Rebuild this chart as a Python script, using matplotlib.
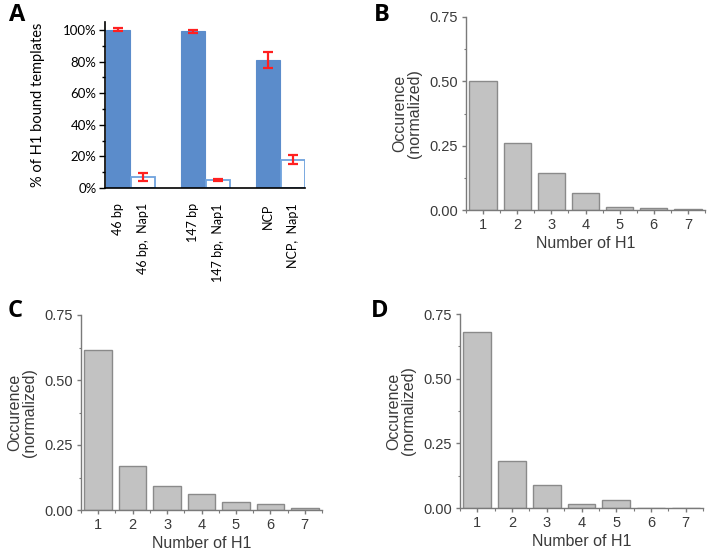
import matplotlib
matplotlib.use("Agg")
import matplotlib.pyplot as plt
from matplotlib.ticker import MultipleLocator, PercentFormatter
import numpy as np

# ---------------- Data ----------------
# Panel A
a_categories = ["46 bp", "46 bp,  Nap1", "147 bp", "147 bp,  Nap1", "NCP", "NCP,  Nap1"]
a_values = [100, 7, 99, 5, 81, 18]
a_errors = [1.0, 2.5, 1.0, 0.5, 5.0, 3.0]
a_filled = [True, False, True, False, True, False]

# Panels B, C, D
n_h1 = [1, 2, 3, 4, 5, 6, 7]
b_values = [0.50, 0.26, 0.145, 0.066, 0.013, 0.008, 0.003]
c_values = [0.615, 0.17, 0.092, 0.06, 0.032, 0.023, 0.008]
d_values = [0.68, 0.18, 0.089, 0.014, 0.030, 0.0, 0.0]
occ_ticks = [0.00, 0.25, 0.50, 0.75]

# ---------------- Figure ----------------
W, H = 708, 552
fig = plt.figure(figsize=(W / 100, H / 100), dpi=100)

def px_axes(left, top, right, bottom):
    return fig.add_axes([left / W, 1 - bottom / H, (right - left) / W, (bottom - top) / H])

# ---- Panel A ----
blue = "#5B8CCB"
edge_blue = "#6FA3DD"
axA = px_axes(105, 22, 305, 188)
xpos = []
for g in range(3):
    xpos += [g - 0.167, g + 0.167]
xpos = np.array(xpos)
for x, v, e, f in zip(xpos, a_values, a_errors, a_filled):
    if f:
        axA.bar(x, v, width=0.31, color=blue, edgecolor=blue, linewidth=0.8, zorder=2)
    else:
        axA.bar(x, v, width=0.32, color="white", edgecolor=edge_blue, linewidth=1.3, zorder=2)
    axA.errorbar(x, v, yerr=e, fmt="none", ecolor="#FF2020", elinewidth=1.6,
                 capsize=3.5, capthick=1.6, zorder=3)
axA.set_xlim(-0.34, 2.327)
axA.set_ylim(0, 105)
axA.yaxis.set_major_locator(MultipleLocator(20))
axA.yaxis.set_minor_locator(MultipleLocator(10))
axA.yaxis.set_major_formatter(PercentFormatter(decimals=0))
axA.set_xticks(xpos)
axA.set_xticklabels(a_categories, rotation=90, va="top", ha="center",
                    fontsize=9, family=["Liberation Sans Narrow", "Lato", "DejaVu Sans"])
axA.tick_params(axis="x", length=0, pad=11)
axA.tick_params(axis="y", which="major", length=4, width=1, labelsize=9.5, pad=2)
axA.tick_params(axis="y", which="minor", length=2.5, width=1)
for lab in axA.get_yticklabels():
    lab.set_family(["Lato", "DejaVu Sans"])
axA.spines["top"].set_visible(False)
axA.spines["right"].set_visible(False)
axA.spines["left"].set_linewidth(1.2)
axA.spines["bottom"].set_linewidth(1.2)
axA.set_ylabel("% of H1 bound templates", fontsize=10.5, family=["Lato", "DejaVu Sans"], labelpad=13)

# ---- Panels B, C, D ----
gray_face = "#C2C2C2"
gray_edge = "#8A8A8A"
spine_col = "#7A7A7A"
text_col = "#3A3A3A"

def occ_panel(ax, values):
    ax.bar(n_h1, values, width=0.8, color=gray_face, edgecolor=gray_edge, linewidth=1.0, zorder=2)
    ax.set_xlim(0.5, 7.5)
    ax.set_ylim(0, 0.75)
    ax.set_yticks(occ_ticks)
    ax.set_yticklabels([f"{t:.2f}" for t in occ_ticks])
    ax.yaxis.set_minor_locator(MultipleLocator(0.125))
    ax.set_xticks(n_h1)
    ax.xaxis.set_minor_locator(MultipleLocator(0.5))
    for s in ["top", "right"]:
        ax.spines[s].set_visible(False)
    for s in ["left", "bottom"]:
        ax.spines[s].set_color(spine_col)
        ax.spines[s].set_linewidth(1.0)
    ax.tick_params(which="major", length=3, width=1, color=spine_col,
                   labelsize=10.5, labelcolor=text_col, pad=3)
    ax.tick_params(which="minor", length=1.8, width=0.8, color=spine_col)
    for lab in ax.get_xticklabels() + ax.get_yticklabels():
        lab.set_family(["Liberation Sans", "DejaVu Sans"])
    ax.set_ylabel("Occurence\n(normalized)", fontsize=11.5, color=text_col,
                  family=["Liberation Sans", "DejaVu Sans"], labelpad=5, linespacing=1.0)
    ax.set_xlabel("Number of H1", fontsize=11.5, color=text_col,
                  family=["Liberation Sans", "DejaVu Sans"], labelpad=3)

axB = px_axes(466, 17, 705, 210)
occ_panel(axB, b_values)
axC = px_axes(81, 315, 322, 510)
occ_panel(axC, c_values)
axD = px_axes(460, 314, 703, 508)
occ_panel(axD, d_values)

# Panel letters
letter_kw = dict(fontsize=17, fontweight="bold", family=["Open Sans", "DejaVu Sans"],
                 va="center", ha="center", color="black")
fig.text(17 / W, 1 - 15 / H, "A", **letter_kw)
fig.text(382 / W, 1 - 15 / H, "B", **letter_kw)
fig.text(15 / W, 1 - 311 / H, "C", **letter_kw)
fig.text(380 / W, 1 - 311 / H, "D", **letter_kw)

fig.savefig("out.png", dpi=100, facecolor="white")
